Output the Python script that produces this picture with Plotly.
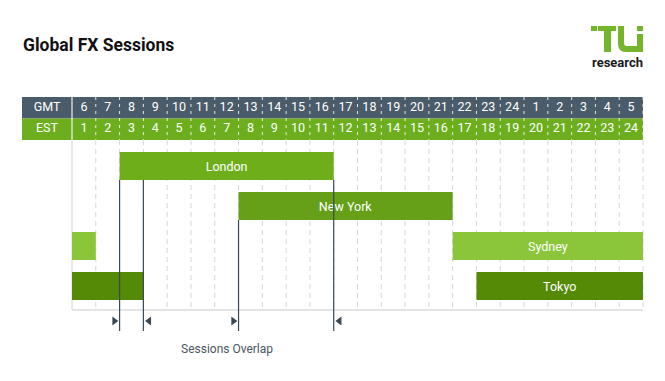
import plotly.graph_objects as go

# ---------------- data ----------------
gmt_labels = ["6", "7", "8", "9", "10", "11", "12", "13", "14", "15", "16", "17",
              "18", "19", "20", "21", "22", "23", "24", "1", "2", "3", "4", "5"]
est_labels = ["1", "2", "3", "4", "5", "6", "7", "8", "9", "10", "11", "12",
              "13", "14", "15", "16", "17", "18", "19", "20", "21", "22", "23", "24"]
axis_start_gmt = 6

sessions = ["London", "New York", "Sydney", "Tokyo"]
open_gmt = [8, 13, 22, 23]
close_gmt = [17, 22, 7, 9]
session_colors = ["#6fae1b", "#65a018", "#8bc63a", "#558a06"]

# overlap boundaries (GMT hour, row of the bar the marker line starts below, arrow side)
overlap_hours = [8, 9, 13, 17]
overlap_rows = [0, 0, 1, 0]
overlap_side = ["right", "left", "right", "left"]

# ---------------- layout helpers ----------------
W, H = 665, 381
left_px, right_px = 72, 643
n_cols = len(gmt_labels)
unit = (right_px - left_px) / n_cols
x_range = [-left_px / unit, (W - left_px) / unit]
label_x0 = -(left_px - 22) / unit

header_top, header_bot = 97, 140
row0_px, row_step = 166, 40
y_range = [(H - row0_px) / row_step, (header_bot - row0_px) / row_step]
area_bottom = (310 - row0_px) / row_step
arrow_row = (321 - row0_px) / row_step
line_end = (331 - row0_px) / row_step
caption_row = (349 - row0_px) / row_step


def to_pos(h):
    return (h - axis_start_gmt) % 24


def px(x):
    return x / W


def py(y):
    return 1 - y / H


fig = go.Figure()

# session bars
for i, (name, o, c, col) in enumerate(zip(sessions, open_gmt, close_gmt, session_colors)):
    a, b = to_pos(o), to_pos(c)
    if b > a:
        segs = [(a, b)]
    else:
        segs = [(a, 24), (0, b)]
    fig.add_trace(go.Bar(
        orientation="h",
        y=[i] * len(segs),
        base=[s[0] for s in segs],
        x=[s[1] - s[0] for s in segs],
        width=0.7,
        marker=dict(color=col, line=dict(width=0)),
        text=[name] + [""] * (len(segs) - 1),
        textposition="inside",
        insidetextanchor="middle",
        textangle=0,
        textfont=dict(color="white", size=12.5, family="Roboto"),
        hoverinfo="skip",
        showlegend=False,
    ))

shapes = []
# header backgrounds
shapes.append(dict(type="rect", xref="x", yref="y2", x0=label_x0, x1=n_cols, y0=0, y1=1,
                   fillcolor="#4a5b69", line=dict(width=0), layer="below"))
shapes.append(dict(type="rect", xref="x", yref="y2", x0=label_x0, x1=n_cols, y0=1, y1=2,
                   fillcolor="#6cae1d", line=dict(width=0), layer="below"))
shapes.append(dict(type="line", xref="x", yref="y2", x0=0, x1=0, y0=0, y1=2,
                   line=dict(color="rgba(255,255,255,0.55)", width=2)))
for k in range(1, n_cols + 1):
    shapes.append(dict(type="line", xref="x", yref="y2", x0=k, x1=k, y0=0, y1=2,
                       line=dict(color="rgba(255,255,255,0.85)", width=1, dash="3px,4px")))
# session area grid
for k in range(1, n_cols + 1):
    shapes.append(dict(type="line", xref="x", yref="y", x0=k, x1=k, y0=y_range[1], y1=area_bottom,
                       line=dict(color="#d6d6d6", width=1, dash="5px,4px"), layer="below"))
shapes.append(dict(type="line", xref="x", yref="y", x0=0, x1=0, y0=y_range[1], y1=area_bottom,
                   line=dict(color="#e2e2e2", width=1.5), layer="below"))
shapes.append(dict(type="line", xref="x", yref="y", x0=0, x1=n_cols, y0=area_bottom, y1=area_bottom,
                   line=dict(color="#e4e4e4", width=2), layer="below"))
# overlap lines
for h, r in zip(overlap_hours, overlap_rows):
    p = to_pos(h)
    shapes.append(dict(type="line", xref="x", yref="y", x0=p, x1=p, y0=r + 0.35, y1=line_end,
                       line=dict(color="#3b4954", width=1.2), layer="above"))

# logo (TU mark)
logo_green = "#74b52b"
for (x0, y0, x1, y1) in [(591, 26, 597, 31), (598, 26, 616, 31), (604, 26, 611, 52),
                         (637, 26, 643, 31)]:
    shapes.append(dict(type="rect", xref="paper", yref="paper",
                       x0=px(x0), x1=px(x1), y0=py(y1), y1=py(y0),
                       fillcolor=logo_green, line=dict(width=0)))
u_pts = [("M", 618, 26), ("L", 618, 44), ("Q", 618, 52, 626, 52), ("L", 643, 52),
         ("L", 643, 34), ("L", 637, 34), ("L", 637, 46), ("L", 627, 46),
         ("Q", 624, 46, 624, 43), ("L", 624, 26)]
path = ""
for p_ in u_pts:
    cmd = p_[0]
    coords = p_[1:]
    pairs = [f"{px(coords[j]):.5f},{py(coords[j + 1]):.5f}" for j in range(0, len(coords), 2)]
    path += cmd + " " + " ".join(pairs) + " "
path += "Z"
shapes.append(dict(type="path", xref="paper", yref="paper", path=path,
                   fillcolor=logo_green, line=dict(width=0)))

# arrows
ax, ay, asym = [], [], []
for h, s in zip(overlap_hours, overlap_side):
    p = to_pos(h)
    if s == "right":
        ax.append(p - 0.22); asym.append("triangle-right")
    else:
        ax.append(p + 0.24); asym.append("triangle-left")
    ay.append(arrow_row)
fig.add_trace(go.Scatter(x=ax, y=ay, mode="markers",
                         marker=dict(symbol=asym, size=8, color="#3b4954"),
                         hoverinfo="skip", showlegend=False))

# header text
hx = [k + 0.5 for k in range(n_cols)]
fig.add_trace(go.Scatter(x=[label_x0 / 2] + hx, y=[0.5] * (n_cols + 1), yaxis="y2",
                         mode="text", text=["GMT"] + gmt_labels,
                         textfont=dict(color="white", size=12.5, family="Roboto"),
                         hoverinfo="skip", showlegend=False))
fig.add_trace(go.Scatter(x=[label_x0 / 2] + hx, y=[1.5] * (n_cols + 1), yaxis="y2",
                         mode="text", text=["EST"] + est_labels,
                         textfont=dict(color="white", size=12.5, family="Roboto"),
                         hoverinfo="skip", showlegend=False))

annotations = [
    dict(text="<b>Global FX Sessions</b>", xref="paper", yref="paper", x=px(21), y=py(45),
         xanchor="left", yanchor="middle", showarrow=False,
         font=dict(size=17.5, color="#111111", family="Roboto")),
    dict(text="<b>research</b>", xref="paper", yref="paper", x=px(617), y=py(62.5),
         xanchor="center", yanchor="middle", showarrow=False,
         font=dict(size=13, color="#1a1a1a", family="Roboto")),
    dict(text="Sessions Overlap", xref="x", yref="y", x=to_pos(12.5), y=caption_row,
         xanchor="center", yanchor="middle", showarrow=False,
         font=dict(size=12, color="#4a5560", family="Roboto")),
]

fig.update_layout(
    width=W, height=H,
    margin=dict(l=0, r=0, t=0, b=0),
    paper_bgcolor="white", plot_bgcolor="rgba(0,0,0,0)",
    barmode="overlay",
    xaxis=dict(range=x_range, domain=[0, 1], visible=False, fixedrange=True),
    yaxis=dict(range=y_range, domain=[0, (H - header_bot) / H], visible=False, fixedrange=True),
    yaxis2=dict(range=[2, 0], domain=[(H - header_bot) / H, (H - header_top) / H],
                visible=False, anchor="x", fixedrange=True),
    shapes=shapes,
    annotations=annotations,
    showlegend=False,
)

fig.write_html("out.html", config={"displayModeBar": False})
